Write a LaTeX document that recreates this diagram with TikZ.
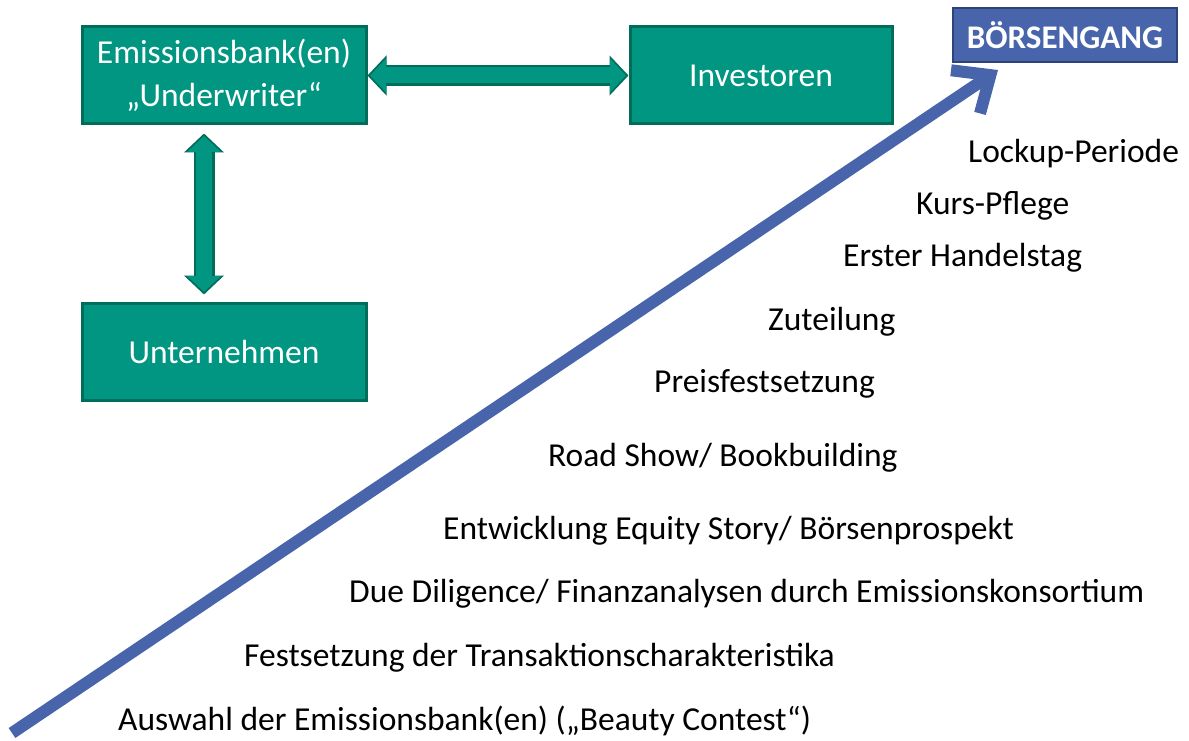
\documentclass[tikz,border=0pt]{standalone}
\usepackage{fontspec}
\setmainfont{Carlito}
\usetikzlibrary{arrows.meta, positioning}
\definecolor{ipogreen}{RGB}{0, 150, 130}
\definecolor{ipogreendark}{RGB}{0, 108, 90}
\definecolor{ipoblue}{RGB}{72, 101, 172}
\definecolor{ipobluedark}{RGB}{45, 68, 122}

\begin{document}
\begin{tikzpicture}[x=1pt, y=-1pt,
  party/.style={draw=ipogreendark, line width=3pt, fill=ipogreen, text=white,
    minimum width=284pt, minimum height=97pt, inner sep=0pt, align=center,
    font=\fontsize{33.5}{43}\selectfont},
  phase/.style={anchor=west, inner sep=0pt, yshift=-3pt,
    font=\fontsize{33.5}{40}\selectfont},
  twoway outer/.style={draw=ipogreendark, line width=21pt,
    {Triangle[length=19pt, width=39pt]}-{Triangle[length=19pt, width=39pt]}},
  twoway inner/.style={draw=ipogreen, line width=16pt,
    {Triangle[length=16pt, width=33pt]}-{Triangle[length=16pt, width=33pt]},
    shorten <=2.5pt, shorten >=2.5pt},
  growth/.style={draw=ipoblue, line width=12pt,
    -{Straight Barb[length=30pt, width=52pt]}}]

  \useasboundingbox (0,0) rectangle (1189,741);

  % --- the three parties ---
  \node[party] (bank) at (224,75.5) {\raisebox{-2pt}{Emissionsbank(en)}\\\raisebox{-2pt}{„Underwriter“}};
  \node[party, minimum width=262pt, right=261pt of bank] (investors) {Investoren};
  \node[party, below=176pt of bank] (firm) {Unternehmen};

  % --- links between them ---
  \draw[twoway outer] (bank.east) -- (investors.west);
  \draw[twoway inner] (bank.east) -- (investors.west);
  \coordinate (bankfoot) at ([xshift=-20pt, yshift=-8pt]bank.south);
  \coordinate (firmtop) at ([xshift=-20pt, yshift=7pt]firm.north);
  \draw[twoway outer] (bankfoot) -- (firmtop);
  \draw[twoway inner] (bankfoot) -- (firmtop);

  % --- goal box ---
  \node[draw=ipobluedark, line width=2.5pt, fill=ipoblue, text=white,
    minimum width=224pt, minimum height=54pt, inner sep=0pt,
    font=\fontsize{33}{38}\selectfont\bfseries] (ipo) at (1065,35) {BÖRSENGANG};

  % --- rising arrow ---
  \coordinate (start) at (12,733);
  \coordinate (peak) at (998,70);
  \draw[growth] (start) -- (peak);

  % --- phases, bottom to top ---
  \node[phase] (auswahl) at (118,718) {Auswahl der Emissionsbank(en) („Beauty Contest“)};
  \node[phase] (festsetzung) at (244,655) {Festsetzung der Transaktionscharakteristika};
  \node[phase] (diligence) at (349,591) {Due Diligence/ Finanzanalysen durch Emissionskonsortium};
  \node[phase] (equity) at (443,528) {Entwicklung Equity Story/ Börsenprospekt};
  \node[phase] (roadshow) at (548,455) {Road Show/ Bookbuilding};
  \node[phase] (preis) at (654,381) {Preisfestsetzung};
  \node[phase] (zuteilung) at (768,319) {Zuteilung};
  \node[phase] (handel) at (843,255) {Erster Handelstag};
  \node[phase] (pflege) at (916,203) {Kurs-Pflege};
  \node[phase] (lockup) at (968,151) {Lockup-Periode};

\end{tikzpicture}
\end{document}
